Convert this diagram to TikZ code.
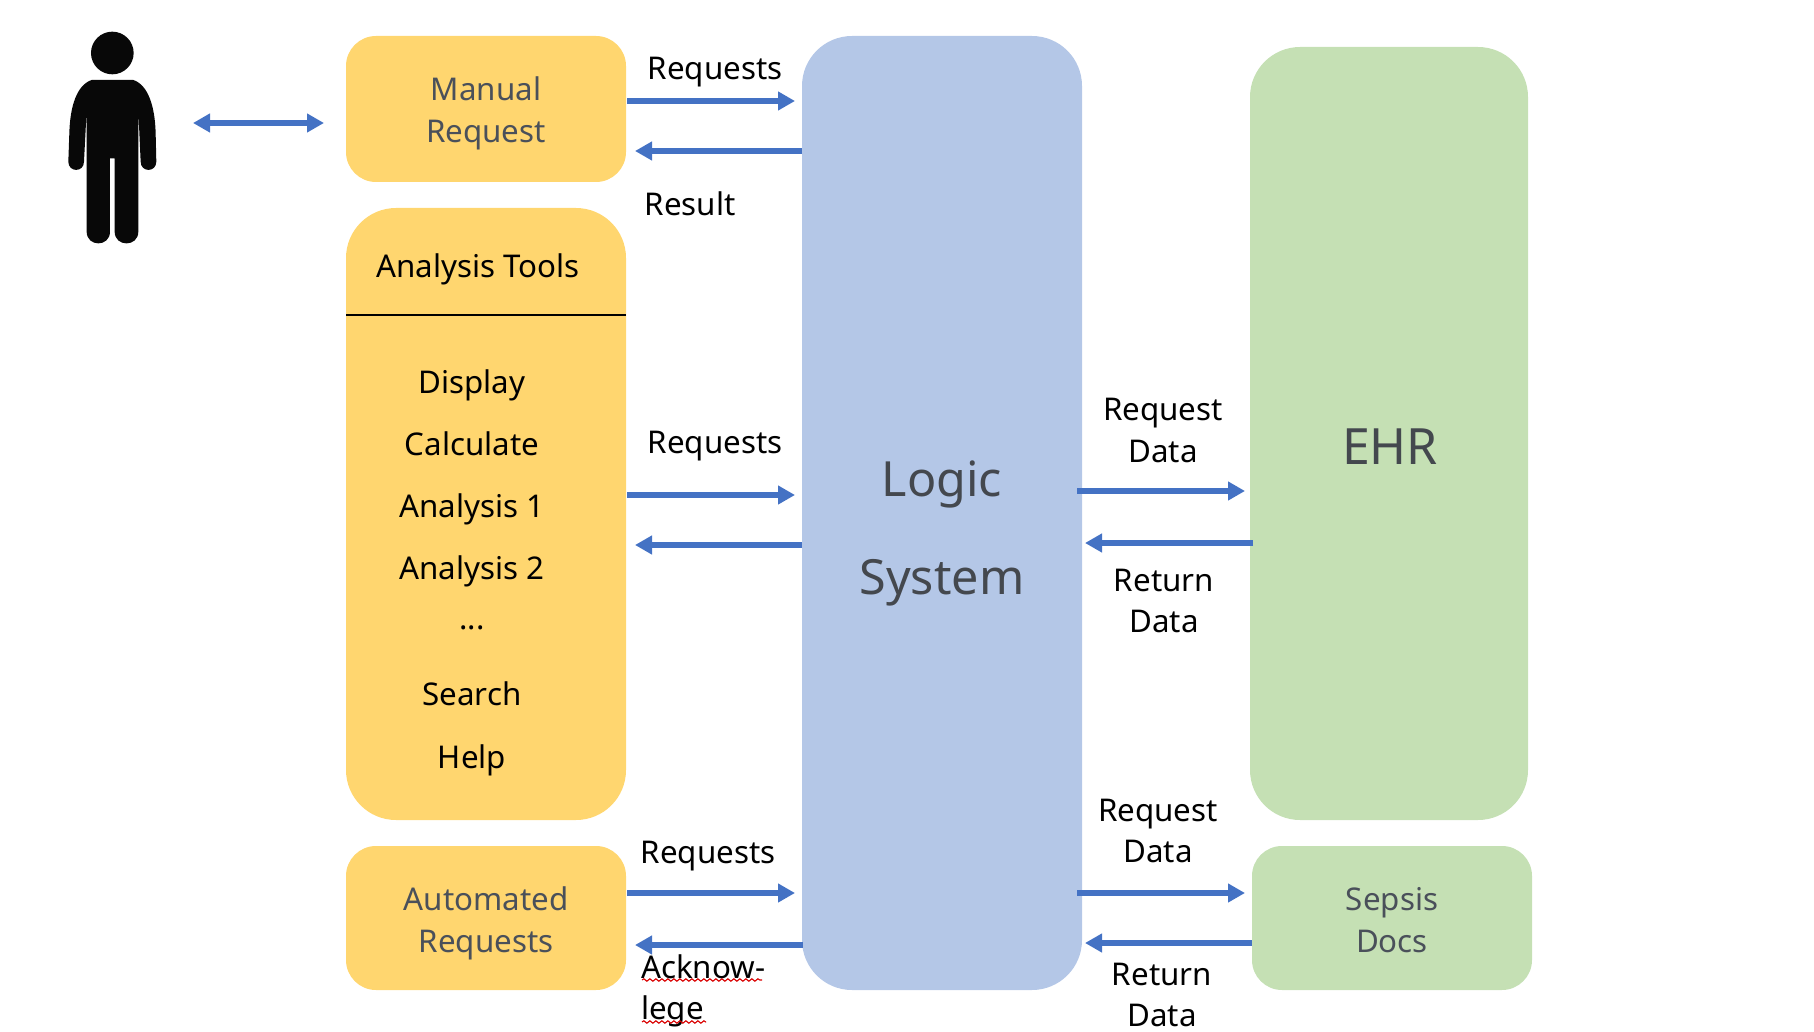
\documentclass[tikz,border=0pt]{standalone}
\usepackage{fontspec}
\setmainfont{Noto Sans}
\usetikzlibrary{arrows.meta,decorations.pathmorphing}
\definecolor{ygold}{HTML}{FFD66F}
\definecolor{lblue}{HTML}{B4C7E7}
\definecolor{lgreen}{HTML}{C5E0B4}
\definecolor{arrowblue}{HTML}{4472C4}
\definecolor{softtext}{HTML}{4A505A}
\definecolor{bigtext}{HTML}{44484E}
\tikzset{
  x=1pt,y=-1pt,
  card/.style={anchor=north west,inner sep=0pt,outer sep=0pt,rounded corners=#1},
  cardtxt/.style={inner sep=0pt,align=center,font=\fontsize{31.3}{42}\selectfont,text=softtext},
  txt/.style={inner sep=0pt,align=center,font=\fontsize{31.3}{41.5}\selectfont,text=black},
  conn/.style={draw=arrowblue,line width=5.5pt,-{Triangle[length=17pt,width=18pt]}},
  biconn/.style={draw=arrowblue,line width=5.5pt,{Triangle[length=17pt,width=18pt]}-{Triangle[length=17pt,width=18pt]}},
  spell/.style={draw=red!85!black,line width=1.1pt,decorate,decoration={snake,amplitude=1.2pt,segment length=6pt}}
}
\begin{document}
\begin{tikzpicture}
\useasboundingbox (0,0) rectangle (1814,1032);
% person
\begin{scope}[shift={(40,10)},x=0.3333pt,y=-0.3333pt]
\fill[black!97] (217,129) circle[radius=64];
\fill[black!97] (155,210) -- (280,210) .. controls (325,225) and (345,290) .. (347,370) -- (349,455)
 .. controls (349,488) and (302,488) .. (302,455) -- (295,300) -- (295,665)
 .. controls (295,712) and (224,712) .. (224,665) -- (224,445) -- (210,445) -- (210,665)
 .. controls (210,712) and (140,712) .. (140,665) -- (140,300) -- (132,455)
 .. controls (132,488) and (85,488) .. (85,455) -- (88,370) .. controls (90,290) and (110,225) .. (155,210) -- cycle;
\end{scope}
% boxes
\node[card=30pt,fill=ygold,minimum width=280pt,minimum height=146pt] (manual) at (346,36) {};
\node[card=50pt,fill=ygold,minimum width=280pt,minimum height=612pt] (tools) at (346,208) {};
\node[card=30pt,fill=ygold,minimum width=280pt,minimum height=144pt] (auto) at (346,846) {};
\node[card=50pt,fill=lblue,minimum width=280pt,minimum height=954pt] (logic) at (802,36) {};
\node[card=50pt,fill=lgreen,minimum width=278pt,minimum height=773pt] (ehr) at (1250,47) {};
\node[card=30pt,fill=lgreen,minimum width=280pt,minimum height=144pt] (sepsis) at (1252,846) {};
% box labels
\node[cardtxt] (manuallabel) at (486,113) {Manual\\Request};
\node[cardtxt] (autolabel) at (486,923) {Automated\\Requests};
\node[cardtxt] (sepsislabel) at (1392,920.5) {Sepsis\\Docs};
\node[inner sep=0pt,align=center,text=bigtext,font=\fontsize{48.5}{98}\selectfont] (logiclabel) at (942,533) {Logic\\System};
\node[inner sep=0pt,text=bigtext,font=\fontsize{50}{60}\selectfont] (ehrlabel) at (1390,447) {EHR};
% analysis tools panel
\node[txt] (toolstitle) at (478,269.5) {Analysis Tools};
\coordinate (ruleL) at (346,315);
\coordinate (ruleR) at (626,315);
\draw[black,line width=1.5pt] (ruleL) -- (ruleR);
\node[txt] (i1) at (472,385.5) {Display};
\node[txt] (i2) at (472,444) {Calculate};
\node[txt] (i3) at (472,509.5) {Analysis 1};
\node[txt] (i4) at (472,571.5) {Analysis 2};
\node[txt] (i5) at (472,628) {...};
\node[txt] (i6) at (472,694) {Search};
\node[txt] (i7) at (472,760.5) {Help};
% arrow end points
\coordinate (pa) at (193,123); \coordinate (pb) at (324,123);
\coordinate (a1) at (627,101); \coordinate (a2) at (795,101);
\coordinate (b1) at (802,151); \coordinate (b2) at (635,151);
\coordinate (c1) at (627,495); \coordinate (c2) at (795,495);
\coordinate (d1) at (802,545); \coordinate (d2) at (635,545);
\coordinate (e1) at (627,893); \coordinate (e2) at (795,893);
\coordinate (f1) at (803,945); \coordinate (f2) at (635,945);
\coordinate (g1) at (1077,491); \coordinate (g2) at (1245,491);
\coordinate (h1) at (1253,543); \coordinate (h2) at (1085,543);
\coordinate (j1) at (1077,893); \coordinate (j2) at (1245,893);
\coordinate (k1) at (1252,943); \coordinate (k2) at (1085,943);
\draw[biconn] (pa) -- (pb);
\draw[conn] (a1) -- (a2);
\draw[conn] (b1) -- (b2);
\draw[conn] (c1) -- (c2);
\draw[conn] (d1) -- (d2);
\draw[conn] (e1) -- (e2);
\draw[conn] (f1) -- (f2);
\draw[conn] (g1) -- (g2);
\draw[conn] (h1) -- (h2);
\draw[conn] (j1) -- (j2);
\draw[conn] (k1) -- (k2);
% connector labels
\node[txt] (l1) at (715,72.5) {Requests};
\node[txt] (l2) at (690,204) {Result};
\node[txt] (l3) at (715,446.5) {Requests};
\node[txt] (l4) at (708,856.5) {Requests};
\node[txt] (l5) at (1163,430.5) {Request\\Data};
\node[txt] (l6) at (1164,601) {Return\\Data};
\node[txt] (l7) at (1158,831) {Request\\Data};
\node[txt] (l8) at (1162,995) {Return\\Data};
\node[txt,align=left,anchor=west] (l9) at (641,991) {Acknow-\\lege};
\coordinate (s1) at (642,980); \coordinate (s2) at (762,980);
\coordinate (s3) at (642,1022); \coordinate (s4) at (706,1022);
\draw[spell] (s1) -- (s2);
\draw[spell] (s3) -- (s4);
\end{tikzpicture}
\end{document}
